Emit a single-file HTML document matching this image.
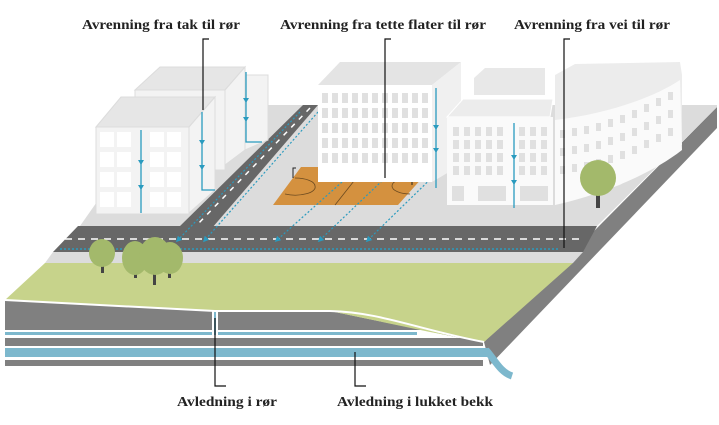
<!DOCTYPE html>
<html><head><meta charset="utf-8"><style>
html,body{margin:0;padding:0;background:#fff}
svg{display:block}
text{font-family:"Liberation Serif",serif;font-weight:bold;font-size:14px;fill:#222}
</style></head><body>
<svg width="719" height="425" viewBox="0 0 719 425" xmlns="http://www.w3.org/2000/svg">
<defs>
<marker id="ar" viewBox="0 0 10 10" refX="5" refY="5" markerWidth="5" markerHeight="5" orient="auto"><path d="M0,0 L10,5 L0,10z" fill="#2a9bbf"/></marker>
</defs>
<polygon points="717,107 717,128 490,365 484,342" fill="#808080"/>
<polygon points="5,300 215,311 330,311 480,342 484,342 484,330 5,330" fill="#808080"/>
<rect x="5" y="332" width="412" height="3" fill="#7db8cd"/>
<rect x="5" y="338" width="478" height="8" fill="#808080"/>
<rect x="5" y="348" width="483" height="9" fill="#7db8cd"/>
<rect x="5" y="360" width="478" height="6" fill="#808080"/>
<rect x="212" y="311" width="6" height="24" fill="#fff"/>
<rect x="214" y="311" width="2" height="24" fill="#7db8cd"/>
<path d="M486,350 C495,360 500,372 512,376" stroke="#7db8cd" stroke-width="7" fill="none"/>
<polygon points="80,226 165,105 717,105 717,107 597,226" fill="#dcdcdc"/>
<polygon points="53,252 583,252 573,263 45,263" fill="#dcdcdc"/>
<polygon points="45,263 573,263 484,342 430,332 330,311 215,311 5,300" fill="#c7d38b"/>
<path d="M5,300 L215,311 L330,311 C380,312 420,330 484,342" stroke="#fff" stroke-width="2" fill="none"/>
<polygon points="78,226 597,226 583,252 53,252" fill="#676767"/>
<line x1="65" y1="239" x2="585" y2="239" stroke="#fff" stroke-width="1.5" stroke-dasharray="7,6"/>
<line x1="60" y1="249" x2="560" y2="249" stroke="#2a9bbf" stroke-width="1.5" stroke-dasharray="2,2"/>
<polygon points="303,105 318,105 212,228 178,228" fill="#676767"/>
<line x1="310" y1="108" x2="196" y2="226" stroke="#fff" stroke-width="1.5" stroke-dasharray="5,6"/>
<line x1="300" y1="112" x2="178" y2="240" stroke="#2a9bbf" stroke-width="1.2" stroke-dasharray="2,2" marker-end="url(#ar)"/>
<line x1="318" y1="112" x2="205" y2="240" stroke="#2a9bbf" stroke-width="1.2" stroke-dasharray="2,2" marker-end="url(#ar)"/>
<polygon points="301,167 432,167 398,205 273,205" fill="#d4913f"/>
<line x1="365" y1="167" x2="335" y2="205" stroke="#6b4a20" stroke-width="0.8"/>
<path d="M295,178 A20,8 0 0 1 315,186 A20,8 0 0 1 285,194" stroke="#6b4a20" fill="none" stroke-width="0.8"/>
<path d="M412,178 A18,8 0 0 0 392,186 A18,8 0 0 0 410,194" stroke="#6b4a20" fill="none" stroke-width="0.8"/>
<path d="M293,178 L293,168 L296,168 M412,175 L412,185 M409,170 L412,170" stroke="#222" fill="none" stroke-width="1"/>
<line x1="342" y1="182" x2="277" y2="240" stroke="#2a9bbf" stroke-width="1.2" stroke-dasharray="2,2" marker-end="url(#ar)"/>
<line x1="385" y1="178" x2="320" y2="240" stroke="#2a9bbf" stroke-width="1.2" stroke-dasharray="2,2" marker-end="url(#ar)"/>
<line x1="450" y1="160" x2="368" y2="240" stroke="#2a9bbf" stroke-width="1.2" stroke-dasharray="2,2" marker-end="url(#ar)"/>
<g fill="#f3f3f3" stroke="#dcdcdc" stroke-width="1">
<polygon points="245,75 268,75 268,140 245,150"/>
<polygon points="135,90 160,67 245,67 225,90" fill="#e6e6e6"/>
<rect x="135" y="90" width="90" height="80"/>
<polygon points="225,90 245,67 245,150 225,165"/>
<polygon points="96,127 121,97 215,97 189,127" fill="#e6e6e6"/>
<rect x="96" y="127" width="93" height="87"/>
<polygon points="189,127 215,97 215,190 189,213"/>
</g>
<g fill="#fff">
<rect x="100" y="132" width="14" height="15"/><rect x="117" y="132" width="14" height="15"/><rect x="150" y="132" width="14" height="15"/><rect x="167" y="132" width="14" height="15"/>
<rect x="100" y="152" width="14" height="15"/><rect x="117" y="152" width="14" height="15"/><rect x="150" y="152" width="14" height="15"/><rect x="167" y="152" width="14" height="15"/>
<rect x="100" y="172" width="14" height="15"/><rect x="117" y="172" width="14" height="15"/><rect x="150" y="172" width="14" height="15"/><rect x="167" y="172" width="14" height="15"/>
<rect x="100" y="192" width="14" height="15"/><rect x="117" y="192" width="14" height="15"/><rect x="150" y="192" width="14" height="15"/><rect x="167" y="192" width="14" height="15"/>
</g>
<polygon points="318,85 340,62 461,62 432,85" fill="#e4e4e4"/>
<rect x="318" y="85" width="114" height="97" fill="#fff"/>
<polygon points="432,85 461,62 461,165 432,182" fill="#f0f0f0"/>
<g fill="#e0e0e0">
<rect x="322" y="93" width="6" height="10"/><rect x="332" y="93" width="6" height="10"/><rect x="342" y="93" width="6" height="10"/><rect x="352" y="93" width="6" height="10"/><rect x="362" y="93" width="6" height="10"/><rect x="372" y="93" width="6" height="10"/><rect x="382" y="93" width="6" height="10"/><rect x="392" y="93" width="6" height="10"/><rect x="402" y="93" width="6" height="10"/><rect x="412" y="93" width="6" height="10"/><rect x="422" y="93" width="6" height="10"/>
<rect x="322" y="108" width="6" height="10"/><rect x="332" y="108" width="6" height="10"/><rect x="342" y="108" width="6" height="10"/><rect x="352" y="108" width="6" height="10"/><rect x="362" y="108" width="6" height="10"/><rect x="372" y="108" width="6" height="10"/><rect x="382" y="108" width="6" height="10"/><rect x="392" y="108" width="6" height="10"/><rect x="402" y="108" width="6" height="10"/><rect x="412" y="108" width="6" height="10"/><rect x="422" y="108" width="6" height="10"/>
<rect x="322" y="123" width="6" height="10"/><rect x="332" y="123" width="6" height="10"/><rect x="342" y="123" width="6" height="10"/><rect x="352" y="123" width="6" height="10"/><rect x="362" y="123" width="6" height="10"/><rect x="372" y="123" width="6" height="10"/><rect x="382" y="123" width="6" height="10"/><rect x="392" y="123" width="6" height="10"/><rect x="402" y="123" width="6" height="10"/><rect x="412" y="123" width="6" height="10"/><rect x="422" y="123" width="6" height="10"/>
<rect x="322" y="138" width="6" height="10"/><rect x="332" y="138" width="6" height="10"/><rect x="342" y="138" width="6" height="10"/><rect x="352" y="138" width="6" height="10"/><rect x="362" y="138" width="6" height="10"/><rect x="372" y="138" width="6" height="10"/><rect x="382" y="138" width="6" height="10"/><rect x="392" y="138" width="6" height="10"/><rect x="402" y="138" width="6" height="10"/><rect x="412" y="138" width="6" height="10"/><rect x="422" y="138" width="6" height="10"/>
<rect x="322" y="153" width="6" height="10"/><rect x="332" y="153" width="6" height="10"/><rect x="342" y="153" width="6" height="10"/><rect x="352" y="153" width="6" height="10"/><rect x="362" y="153" width="6" height="10"/><rect x="372" y="153" width="6" height="10"/><rect x="382" y="153" width="6" height="10"/><rect x="392" y="153" width="6" height="10"/><rect x="402" y="153" width="6" height="10"/><rect x="412" y="153" width="6" height="10"/><rect x="422" y="153" width="6" height="10"/>
</g>
<polygon points="474,78 485,68 545,68 545,95 474,95" fill="#e8e8e8"/>
<polygon points="555,75 575,64 680,62 682,75 682,145 620,185 555,205" fill="#ececec"/>
<path d="M555,120 C600,115 650,100 680,80 L682,150 C650,175 600,195 555,205z" fill="#fafafa"/>
<g fill="#e0e0e0">
<rect x="560" y="130" width="5" height="8"/><rect x="572" y="128" width="5" height="8"/><rect x="584" y="126" width="5" height="8"/><rect x="596" y="123" width="5" height="8"/><rect x="608" y="119" width="5" height="8"/><rect x="620" y="115" width="5" height="8"/><rect x="632" y="110" width="5" height="8"/><rect x="644" y="104" width="5" height="8"/><rect x="656" y="98" width="5" height="8"/><rect x="668" y="92" width="5" height="8"/>
<rect x="560" y="148" width="5" height="8"/><rect x="572" y="146" width="5" height="8"/><rect x="584" y="144" width="5" height="8"/><rect x="596" y="141" width="5" height="8"/><rect x="608" y="137" width="5" height="8"/><rect x="620" y="133" width="5" height="8"/><rect x="632" y="128" width="5" height="8"/><rect x="644" y="122" width="5" height="8"/><rect x="656" y="116" width="5" height="8"/><rect x="668" y="110" width="5" height="8"/>
<rect x="560" y="166" width="5" height="8"/><rect x="572" y="164" width="5" height="8"/><rect x="584" y="162" width="5" height="8"/><rect x="596" y="159" width="5" height="8"/><rect x="608" y="155" width="5" height="8"/><rect x="620" y="151" width="5" height="8"/><rect x="632" y="146" width="5" height="8"/><rect x="644" y="140" width="5" height="8"/><rect x="656" y="134" width="5" height="8"/><rect x="668" y="128" width="5" height="8"/>
</g>
<polygon points="447,117 463,99 553,99 550,117" fill="#ececec" stroke="#fff"/>
<rect x="447" y="117" width="106" height="88" fill="#fafafa"/>
<g fill="#e0e0e0">
<rect x="453" y="127" width="6" height="9"/><rect x="464" y="127" width="6" height="9"/><rect x="475" y="127" width="6" height="9"/><rect x="486" y="127" width="6" height="9"/><rect x="497" y="127" width="6" height="9"/><rect x="519" y="127" width="6" height="9"/><rect x="530" y="127" width="6" height="9"/><rect x="541" y="127" width="6" height="9"/>
<rect x="453" y="140" width="6" height="9"/><rect x="464" y="140" width="6" height="9"/><rect x="475" y="140" width="6" height="9"/><rect x="486" y="140" width="6" height="9"/><rect x="497" y="140" width="6" height="9"/><rect x="519" y="140" width="6" height="9"/><rect x="530" y="140" width="6" height="9"/><rect x="541" y="140" width="6" height="9"/>
<rect x="453" y="153" width="6" height="9"/><rect x="464" y="153" width="6" height="9"/><rect x="475" y="153" width="6" height="9"/><rect x="486" y="153" width="6" height="9"/><rect x="497" y="153" width="6" height="9"/><rect x="519" y="153" width="6" height="9"/><rect x="530" y="153" width="6" height="9"/><rect x="541" y="153" width="6" height="9"/>
<rect x="453" y="166" width="6" height="9"/><rect x="464" y="166" width="6" height="9"/><rect x="475" y="166" width="6" height="9"/><rect x="486" y="166" width="6" height="9"/><rect x="497" y="166" width="6" height="9"/><rect x="519" y="166" width="6" height="9"/><rect x="530" y="166" width="6" height="9"/><rect x="541" y="166" width="6" height="9"/>
<rect x="452" y="186" width="12" height="15"/><rect x="478" y="186" width="28" height="15"/><rect x="520" y="186" width="28" height="15"/>
</g>
<g stroke="#2a9bbf" stroke-width="1.3" fill="none">
<path d="M141,130 V213"/><path d="M202,112 V190 H215"/><path d="M246,72 V142 H262"/><path d="M436,88 V188"/><path d="M514,123 V208"/>
</g>
<g fill="#2a9bbf">
<path d="M138,160 h6 l-3,5z"/><path d="M138,185 h6 l-3,5z"/>
<path d="M199,140 h6 l-3,5z"/><path d="M199,165 h6 l-3,5z"/>
<path d="M243,98 h6 l-3,5z"/><path d="M243,117 h6 l-3,5z"/>
<path d="M433,125 h6 l-3,5z"/><path d="M433,148 h6 l-3,5z"/>
<path d="M511,155 h6 l-3,5z"/><path d="M511,180 h6 l-3,5z"/>
</g>
<g fill="#a3b96b">
<rect x="596" y="190" width="4" height="18" fill="#444"/><circle cx="598" cy="178" r="18"/>
<rect x="101" y="258" width="3" height="15" fill="#444"/><ellipse cx="102" cy="253" rx="13" ry="14"/>
<rect x="134" y="262" width="3" height="16" fill="#444"/><ellipse cx="135" cy="258" rx="13" ry="17"/>
<rect x="168" y="262" width="3" height="16" fill="#444"/><ellipse cx="170" cy="258" rx="13" ry="16"/>
<rect x="153" y="265" width="3" height="20" fill="#444"/><ellipse cx="155" cy="256" rx="16" ry="19"/>
</g>
<g stroke="#111" stroke-width="1.2" fill="none">
<path d="M209,39 H203 V110"/>
<path d="M391,39 H385 V178"/>
<path d="M570,39 H564 V248"/>
<path d="M215,318 V386 H226"/>
<path d="M355,352 V386 H366"/>
</g>
<text x="82" y="29" textLength="158" lengthAdjust="spacingAndGlyphs">Avrenning fra tak til rør</text>
<text x="280" y="29" textLength="206" lengthAdjust="spacingAndGlyphs">Avrenning fra tette flater til rør</text>
<text x="514" y="29" textLength="156" lengthAdjust="spacingAndGlyphs">Avrenning fra vei til rør</text>
<text x="177" y="406" textLength="100" lengthAdjust="spacingAndGlyphs">Avledning i rør</text>
<text x="337" y="406" textLength="156" lengthAdjust="spacingAndGlyphs">Avledning i lukket bekk</text>
</svg>
</body></html>
